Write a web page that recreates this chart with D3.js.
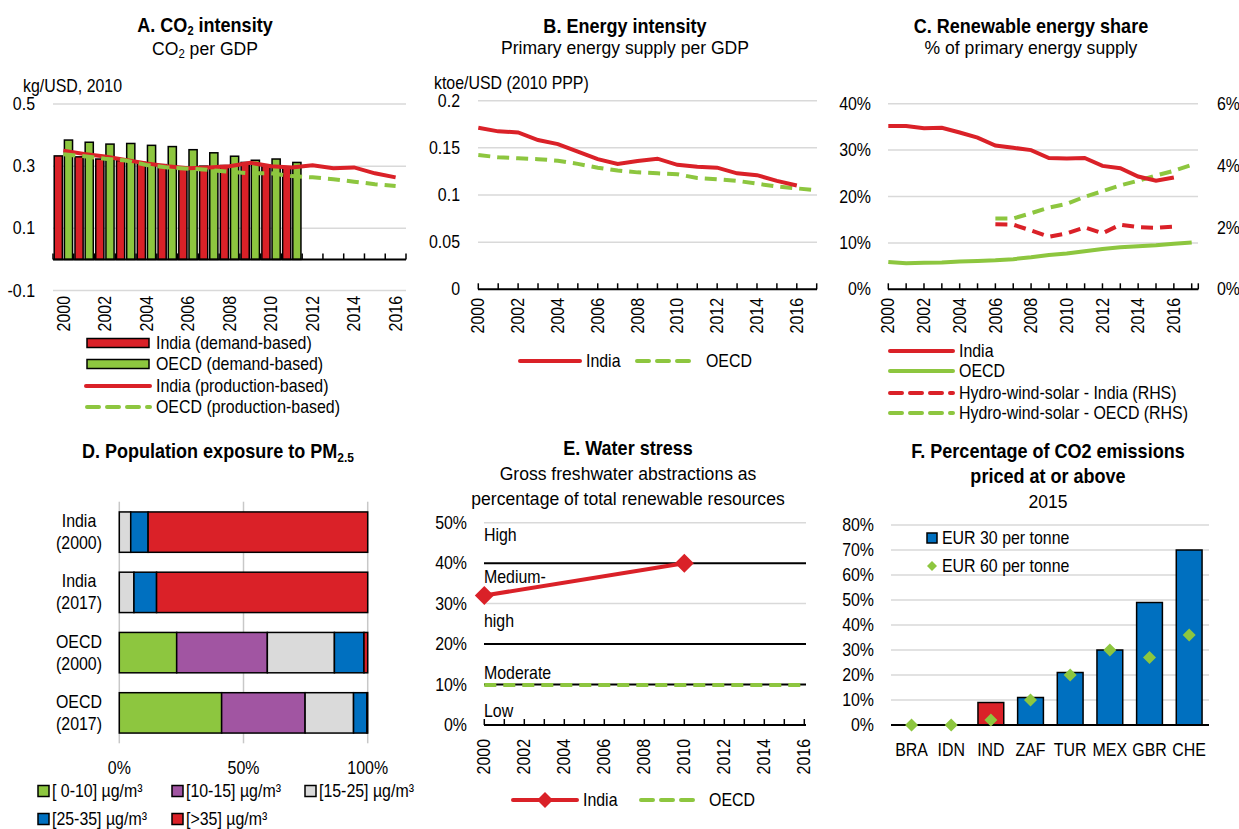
<!DOCTYPE html>
<html><head><meta charset="utf-8">
<script src="https://cdn.jsdelivr.net/npm/d3@7"></script>
<style>
body{margin:0;background:#fff}
svg{font-family:"Liberation Sans",Arial,sans-serif;font-size:17.5px;fill:#000}
</style></head><body>
<svg id="c" width="1239" height="829"></svg>
<script>
// ---------- DATA ----------
// Panel A
const yearsA = [2000,2001,2002,2003,2004,2005,2006,2007,2008,2009,2010,2011,2012,2013,2014,2015,2016];
const indiaDemand = [0.333,0.330,0.323,0.318,0.312,0.305,0.296,0.300,0.302,0.312,0.303,0.296];
const oecdDemand  = [0.384,0.377,0.371,0.373,0.367,0.363,0.353,0.343,0.332,0.319,0.323,0.312];
const indiaProd   = [0.350,0.339,0.331,0.320,0.309,0.300,0.293,0.296,0.300,0.311,0.300,0.296,0.303,0.293,0.296,0.277,0.264];
const oecdProd    = [0.338,0.332,0.324,0.318,0.304,0.296,0.292,0.288,0.282,0.277,0.277,0.268,0.264,0.258,0.250,0.242,0.236];
const ticksA = [-0.1,0.1,0.3,0.5];
const ticksALabels = ["-0.1","0.1","0.3","0.5"];
const yearLabels = ["2000","2002","2004","2006","2008","2010","2012","2014","2016"];
const legendA = ["India (demand-based)","OECD (demand-based)","India (production-based)","OECD (production-based)"];

// Panel B
const yearsB = [2000,2001,2002,2003,2004,2005,2006,2007,2008,2009,2010,2011,2012,2013,2014,2015,2016,2017];
const indiaEnergy = [0.1714,0.1675,0.1664,0.1583,0.1540,0.1460,0.1380,0.1330,0.1360,0.1385,0.1320,0.1300,0.1290,0.1230,0.1210,0.1150,0.1100];
const oecdEnergy  = [0.1424,0.1400,0.1390,0.1380,0.1364,0.1330,0.1290,0.1260,0.1240,0.1230,0.1220,0.1180,0.1166,0.1150,0.1120,0.1090,0.1070,0.1050];
const ticksB = [0,0.05,0.1,0.15,0.2];
const ticksBLabels = ["0","0.05","0.1","0.15","0.2"];

// Panel C
const yearsC = [2000,2001,2002,2003,2004,2005,2006,2007,2008,2009,2010,2011,2012,2013,2014,2015,2016,2017];
const indiaRenew = [35.2,35.2,34.7,34.8,33.8,32.7,31.0,30.5,30.0,28.3,28.2,28.3,26.6,26.1,24.3,23.4,24.1];
const oecdRenew  = [5.9,5.6,5.7,5.75,6.0,6.1,6.25,6.5,6.9,7.4,7.7,8.2,8.7,9.05,9.3,9.5,9.8,10.1];
const hwsYears   = [2006,2007,2008,2009,2010,2011,2012,2013,2014,2015,2016,2017];
const hwsIndia   = [2.10,2.09,1.90,1.70,1.81,2.00,1.81,2.09,2.01,1.99,2.03];
const hwsOECD    = [2.29,2.29,2.46,2.64,2.76,2.99,3.17,3.36,3.51,3.68,3.83,4.02];
const ticksCL = [0,10,20,30,40];
const ticksCR = [0,2,4,6];
const legendC = ["India","OECD","Hydro-wind-solar - India (RHS)","Hydro-wind-solar - OECD (RHS)"];

// Panel D
const dCats = [["India","(2000)"],["India","(2017)"],["OECD","(2000)"],["OECD","(2017)"]];
const pm0_10  = [0,0,23.1,41.2];
const pm10_15 = [0,0,36.5,33.6];
const pm15_25 = [4.6,5.9,27.0,19.5];
const pm25_35 = [7.0,9.1,11.9,5.4];
const pm35    = [88.4,85.0,1.5,0.3];
const pmKeys  = ["[ 0-10] µg/m³","[10-15] µg/m³","[15-25] µg/m³","[25-35] µg/m³","[>35] µg/m³"];
const ticksD  = [0,50,100];

// Panel E
const yearsE = [2000,2001,2002,2003,2004,2005,2006,2007,2008,2009,2010,2011,2012,2013,2014,2015,2016];
const waterIndiaYears = [2000,2010];
const waterIndia = [32,40];
const waterOECD = [9.9,9.9,9.9,9.9,9.9,9.9,9.9,9.9,9.9,9.9,9.9,9.9,9.9,9.9,9.9,9.9,9.9];
const stressThresholds = [10,20,40];
const ticksE = [0,10,20,30,40,50];

// Panel F
const countries = ["BRA","IDN","IND","ZAF","TUR","MEX","GBR","CHE"];
const eur30 = [0,0,9,11,21,30,49,70];
const eur60 = [0,0,2,10,20,30,27,36];
const ticksF = [0,10,20,30,40,50,60,70,80];

// ---------- STYLE ----------
const RED="#DA2128", GREEN="#8DC63F", BLUE="#0070C0", PURPLE="#A155A2", LGRAY="#DADADA", GRID="#D9D9D9";
const SX = 0.91; // horizontal condensing of body text
const svg = d3.select("#c");

function text(g,x,y,s,o={}){
  const t=g.append("text").attr("x",x).attr("y",y).text(s);
  for(const k in o) t.attr(k,o[k]);
  return t;
}
function gridH(g,ys,x0,x1,col=GRID,w=1.5){
  g.selectAll(null).data(ys).join("line")
   .attr("x1",x0).attr("x2",x1).attr("y1",d=>d).attr("y2",d=>d)
   .attr("stroke",col).attr("stroke-width",w);
}
function upTicks(g,xs,y,len=6){
  g.selectAll(null).data(xs).join("line")
   .attr("x1",d=>d).attr("x2",d=>d).attr("y1",y).attr("y2",y-len)
   .attr("stroke","#000").attr("stroke-width",1.5);
}
function rotLabels(g,items,yTop){
  g.selectAll(null).data(items).join("text")
   .attr("transform",d=>`translate(${d.x},${yTop}) rotate(-90)`)
   .attr("text-anchor","end").attr("dy","0.35em").text(d=>d.t);
}
function title(g,x,y,parts,bold=true){
  const fs = bold?19.5:18.5;
  const t=g.append("text").attr("x",x).attr("y",y).attr("text-anchor","middle")
    .attr("font-weight",bold?"bold":"normal").attr("font-size",fs)
    .attr("data-sx",bold?0.925:0.95);
  parts.forEach(p=>{
    if(typeof p==="string") t.append("tspan").text(p);
    else t.append("tspan").attr("dy",p.dy).attr("font-size",p.fs||13).text(p.t);
  });
  return t;
}
const diamond = r => `M0,${-r}L${r},0L0,${r}L${-r},0Z`;

// ================= PANEL A =================
{
  const g=svg.append("g");
  title(g,205,32.5,["A. CO",{t:"2",dy:3,fs:12},{t:" intensity",dy:-3,fs:19.5}]);
  title(g,205,55.5,["CO",{t:"2",dy:3,fs:12},{t:" per GDP",dy:-3,fs:18.5}],false);
  text(g,23,92,"kg/USD, 2010");
  const x=d3.scaleBand().domain(yearsA).range([53,406]);
  const y=d3.scaleLinear().domain([-0.1,0.5]).range([290.5,104]);
  gridH(g,ticksA.map(y),53,406);
  g.selectAll(null).data(ticksA).join("text").attr("x",35).attr("y",d=>y(d)).attr("dy","0.35em")
   .attr("text-anchor","end").text((d,i)=>ticksALabels[i]);
  const bx=[...yearsA.map(d=>x(d)),x.range()[1]];
  upTicks(g,bx,y(0));
  const x1=d3.scaleBand().domain(["india","oecd"]).range([0,x.bandwidth()]).paddingInner(0.2).paddingOuter(0.12);
  g.selectAll(null).data(indiaDemand).join("rect")
   .attr("x",(d,i)=>x(yearsA[i])+x1("india")).attr("width",x1.bandwidth())
   .attr("y",d=>y(d)).attr("height",d=>y(0)-y(d)).attr("fill",RED).attr("stroke","#000").attr("stroke-width",1.5);
  g.selectAll(null).data(oecdDemand).join("rect")
   .attr("x",(d,i)=>x(yearsA[i])+x1("oecd")).attr("width",x1.bandwidth())
   .attr("y",d=>y(d)).attr("height",d=>y(0)-y(d)).attr("fill",GREEN).attr("stroke","#000").attr("stroke-width",1.5);
  g.append("line").attr("x1",53).attr("x2",406).attr("y1",y(0)).attr("y2",y(0)).attr("stroke","#000").attr("stroke-width",2);
  const cx=d=>x(d)+x.bandwidth()/2;
  const lineI=d3.line().x((d,i)=>cx(yearsA[i])).y(d=>y(d));
  g.append("path").attr("d",lineI(indiaProd)).attr("fill","none").attr("stroke",RED).attr("stroke-width",4);
  g.append("path").attr("d",lineI(oecdProd)).attr("fill","none").attr("stroke",GREEN).attr("stroke-width",4).attr("stroke-dasharray","12,7");
  rotLabels(g,yearLabels.map(t=>({x:cx(+t),t})),296);
  const ly=[343,364,386,407];
  g.append("rect").attr("x",87).attr("y",ly[0]-4.5).attr("width",62).attr("height",9).attr("fill",RED).attr("stroke","#000").attr("stroke-width",1.5);
  g.append("rect").attr("x",87).attr("y",ly[1]-4.5).attr("width",62).attr("height",9).attr("fill",GREEN).attr("stroke","#000").attr("stroke-width",1.5);
  g.append("line").attr("x1",86).attr("x2",150).attr("y1",ly[2]).attr("y2",ly[2]).attr("stroke",RED).attr("stroke-width",4).attr("stroke-linecap","round");
  g.append("line").attr("x1",87).attr("x2",150).attr("y1",ly[3]).attr("y2",ly[3]).attr("stroke",GREEN).attr("stroke-width",4).attr("stroke-dasharray","12,8").attr("stroke-linecap","round");
  legendA.forEach((s,i)=>text(g,156,ly[i],s,{dy:"0.35em"}));
}

// ================= PANEL B =================
{
  const g=svg.append("g");
  title(g,625,33.5,["B. Energy intensity"]);
  title(g,625,54.5,["Primary energy supply per GDP"],false);
  text(g,434,89,"ktoe/USD (2010 PPP)");
  const x=d3.scalePoint().domain(yearsB).range([478.3,816.7]);
  const y=d3.scaleLinear().domain([0,0.2]).range([289.3,100.7]);
  gridH(g,ticksB.slice(1).map(y),478,817);
  g.selectAll(null).data(ticksB).join("text").attr("x",460).attr("y",d=>y(d)).attr("dy","0.35em")
   .attr("text-anchor","end").text((d,i)=>ticksBLabels[i]);
  upTicks(g,yearsB.map(x),y(0));
  g.append("line").attr("x1",478).attr("x2",817).attr("y1",y(0)).attr("y2",y(0)).attr("stroke","#000").attr("stroke-width",2);
  const ln=d3.line().x((d,i)=>x(yearsB[i])).y(d=>y(d));
  g.append("path").attr("d",ln(oecdEnergy)).attr("fill","none").attr("stroke",GREEN).attr("stroke-width",4).attr("stroke-dasharray","12,7");
  g.append("path").attr("d",ln(indiaEnergy)).attr("fill","none").attr("stroke",RED).attr("stroke-width",4);
  rotLabels(g,yearLabels.map(t=>({x:x(+t),t})),298);
  g.append("line").attr("x1",520).attr("x2",580).attr("y1",361).attr("y2",361).attr("stroke",RED).attr("stroke-width",4).attr("stroke-linecap","round");
  text(g,586,361,"India",{dy:"0.35em"});
  g.append("line").attr("x1",637).attr("x2",697).attr("y1",361).attr("y2",361).attr("stroke",GREEN).attr("stroke-width",4).attr("stroke-dasharray","12,8").attr("stroke-linecap","round");
  text(g,706,361,"OECD",{dy:"0.35em"});
}

// ================= PANEL C =================
{
  const g=svg.append("g");
  title(g,1031,33.5,["C. Renewable energy share"]);
  title(g,1031,54.5,["% of primary energy supply"],false);
  const x=d3.scaleLinear().domain([2000,2017]).range([888.3,1191.7]);
  const yL=d3.scaleLinear().domain([0,40]).range([289.3,103.7]);
  const yR=d3.scaleLinear().domain([0,6]).range([289.3,103.7]);
  gridH(g,ticksCL.slice(1).map(yL),888,1198);
  g.selectAll(null).data(ticksCL).join("text").attr("x",871).attr("y",d=>yL(d)).attr("dy","0.35em")
   .attr("text-anchor","end").text(d=>d+"%");
  g.selectAll(null).data(ticksCR).join("text").attr("x",1217).attr("y",d=>yR(d)).attr("dy","0.35em")
   .attr("text-anchor","start").text(d=>d+"%");
  upTicks(g,[...yearsC.map(x),1198.3],yL(0));
  g.append("line").attr("x1",888).attr("x2",1198.3).attr("y1",yL(0)).attr("y2",yL(0)).attr("stroke","#000").attr("stroke-width",2);
  const lnL=yrs=>d3.line().x((d,i)=>x(yrs[i])).y(d=>yL(d));
  const lnR=yrs=>d3.line().x((d,i)=>x(yrs[i])).y(d=>yR(d));
  g.append("path").attr("d",lnL(yearsC)(oecdRenew)).attr("fill","none").attr("stroke",GREEN).attr("stroke-width",4);
  g.append("path").attr("d",lnR(hwsYears)(hwsOECD)).attr("fill","none").attr("stroke",GREEN).attr("stroke-width",4).attr("stroke-dasharray","12,7");
  g.append("path").attr("d",lnR(hwsYears)(hwsIndia)).attr("fill","none").attr("stroke",RED).attr("stroke-width",4).attr("stroke-dasharray","12,7");
  g.append("path").attr("d",lnL(yearsC)(indiaRenew)).attr("fill","none").attr("stroke",RED).attr("stroke-width",4);
  rotLabels(g,yearLabels.map(t=>({x:x(+t),t})),298);
  const ly=[351,371,393,413];
  const cols=[RED,GREEN,RED,GREEN];
  ly.forEach((yy,i)=>{
    const l=g.append("line").attr("x1",890).attr("x2",953).attr("y1",yy).attr("y2",yy).attr("stroke",cols[i]).attr("stroke-width",4).attr("stroke-linecap","round");
    if(i>1) l.attr("stroke-dasharray","12,8");
    text(g,959,yy,legendC[i],{dy:"0.35em"});
  });
}

// ================= PANEL D =================
{
  const g=svg.append("g");
  title(g,218,458,["D. Population exposure to PM",{t:"2.5",dy:4}]);
  const x=d3.scaleLinear().domain([0,100]).range([119.3,367.7]);
  const y=d3.scaleBand().domain(d3.range(dCats.length)).range([501.7,743.3]).paddingInner(0.33).paddingOuter(0.17);
  g.selectAll(null).data(ticksD).join("line").attr("x1",d=>x(d)).attr("x2",d=>x(d)).attr("y1",501.7).attr("y2",743.3)
   .attr("stroke","#C8C8C8").attr("stroke-width",1.5);
  g.selectAll(null).data(ticksD).join("text").attr("x",d=>x(d)).attr("y",768).attr("dy","0.35em")
   .attr("text-anchor","middle").text(d=>d+"%");
  const rows=dCats.map((c,i)=>({i,a:pm0_10[i],b:pm10_15[i],c:pm15_25[i],d:pm25_35[i],e:pm35[i]}));
  const keys=["a","b","c","d","e"];
  const cols=[GREEN,PURPLE,LGRAY,BLUE,RED];
  const st=d3.stack().keys(keys)(rows);
  st.forEach((s,k)=>{
    g.selectAll(null).data(s.filter(d=>d[1]-d[0]>0)).join("rect")
     .attr("x",d=>x(d[0])).attr("width",d=>x(d[1])-x(d[0]))
     .attr("y",d=>y(d.data.i)).attr("height",y.bandwidth())
     .attr("fill",cols[k]).attr("stroke","#000").attr("stroke-width",1.5);
  });
  dCats.forEach((c,i)=>{
    const cy=y(i)+y.bandwidth()/2;
    text(g,79,cy-5,c[0],{"text-anchor":"middle"});
    text(g,79,cy+17,c[1],{"text-anchor":"middle"});
  });
  const lx=[38,172,305,38,172], lyy=[791,791,791,819,819];
  pmKeys.forEach((s,k)=>{
    g.append("rect").attr("x",lx[k]).attr("y",lyy[k]-5.5).attr("width",11).attr("height",11).attr("fill",cols[k]).attr("stroke","#000").attr("stroke-width",1.5);
    text(g,lx[k]+14,lyy[k],s,{dy:"0.35em"});
  });
}

// ================= PANEL E =================
{
  const g=svg.append("g");
  title(g,628,455,["E. Water stress"]);
  title(g,628,480,["Gross freshwater abstractions as"],false);
  title(g,628,505,["percentage of total renewable resources"],false);
  const x=d3.scaleLinear().domain([2000,2016]).range([484.3,804.3]);
  const y=d3.scaleLinear().domain([0,50]).range([725,522.7]);
  gridH(g,ticksE.filter(d=>d>0&&!stressThresholds.includes(d)).map(y),484,806);
  gridH(g,stressThresholds.map(y),484,806,"#000",2);
  g.selectAll(null).data(ticksE).join("text").attr("x",467).attr("y",d=>y(d)).attr("dy","0.35em")
   .attr("text-anchor","end").text(d=>d+"%");
  upTicks(g,yearsE.map(x),y(0));
  g.append("line").attr("x1",484).attr("x2",806).attr("y1",y(0)).attr("y2",y(0)).attr("stroke","#000").attr("stroke-width",2);
  const ann=[["High",541],["Medium-",583],["high",627],["Moderate",679],["Low",717]];
  ann.forEach(a=>text(g,484,a[1],a[0]));
  const lnO=d3.line().x((d,i)=>x(yearsE[i])).y(d=>y(d));
  g.append("path").attr("d",lnO(waterOECD)).attr("fill","none").attr("stroke",GREEN).attr("stroke-width",4).attr("stroke-dasharray","12,7");
  const lnI=d3.line().x((d,i)=>x(waterIndiaYears[i])).y(d=>y(d));
  g.append("path").attr("d",lnI(waterIndia)).attr("fill","none").attr("stroke",RED).attr("stroke-width",4);
  g.selectAll(null).data(waterIndia).join("path").attr("d",diamond(9.5))
   .attr("transform",(d,i)=>`translate(${x(waterIndiaYears[i])},${y(d)})`).attr("fill",RED);
  rotLabels(g,yearLabels.map(t=>({x:x(+t),t})),739);
  g.append("line").attr("x1",513).attr("x2",577).attr("y1",800).attr("y2",800).attr("stroke",RED).attr("stroke-width",4).attr("stroke-linecap","round");
  g.append("path").attr("d",diamond(8)).attr("transform","translate(545,800)").attr("fill",RED);
  text(g,583,800,"India",{dy:"0.35em"});
  g.append("line").attr("x1",641).attr("x2",698).attr("y1",800).attr("y2",800).attr("stroke",GREEN).attr("stroke-width",4).attr("stroke-dasharray","12,8").attr("stroke-linecap","round");
  text(g,709,800,"OECD",{dy:"0.35em"});
}

// ================= PANEL F =================
{
  const g=svg.append("g");
  title(g,1048,458,["F. Percentage of CO2 emissions"]);
  title(g,1048,483,["priced at or above"]);
  title(g,1048,508,["2015"],false);
  const x=d3.scaleBand().domain(countries).range([891.7,1209]).paddingInner(0.35).paddingOuter(0.175);
  const y=d3.scaleLinear().domain([0,80]).range([725,525]);
  gridH(g,ticksF.slice(1).map(y),891,1209);
  g.selectAll(null).data(ticksF).join("text").attr("x",874).attr("y",d=>y(d)).attr("dy","0.35em")
   .attr("text-anchor","end").text(d=>d+"%");
  const fRows=countries.map((c,i)=>({c,v30:eur30[i],v60:eur60[i]}));
  g.selectAll(null).data(fRows.filter(d=>d.v30>0)).join("rect")
   .attr("x",d=>x(d.c)).attr("width",x.bandwidth())
   .attr("y",d=>y(d.v30)).attr("height",d=>y(0)-y(d.v30))
   .attr("fill",d=>d.c==="IND"?RED:BLUE).attr("stroke","#000").attr("stroke-width",1.5);
  g.append("line").attr("x1",891).attr("x2",1209).attr("y1",y(0)).attr("y2",y(0)).attr("stroke","#000").attr("stroke-width",2);
  g.selectAll(null).data(fRows).join("path").attr("d",diamond(6.5))
   .attr("transform",d=>`translate(${x(d.c)+x.bandwidth()/2},${y(d.v60)})`).attr("fill",GREEN);
  g.selectAll(null).data(countries).join("text").attr("x",d=>x(d)+x.bandwidth()/2).attr("y",750).attr("dy","0.35em")
   .attr("text-anchor","middle").text(d=>d);
  g.append("rect").attr("x",927).attr("y",533).attr("width",10).attr("height",10).attr("fill",BLUE).attr("stroke","#000").attr("stroke-width",1.5);
  text(g,942,538,"EUR 30 per tonne",{dy:"0.35em"});
  g.append("path").attr("d",diamond(5)).attr("transform","translate(932,566)").attr("fill",GREEN);
  text(g,942,566,"EUR 60 per tonne",{dy:"0.35em"});
}

// condense text horizontally (reference typeface is slightly narrow/tall)
svg.selectAll("text").each(function(){
  const t=d3.select(this);
  const sx=+(t.attr("data-sx")||SX);
  const tr=t.attr("transform");
  if(tr) t.attr("transform",tr+` scale(${sx},1)`);
  else {
    const x=+t.attr("x")||0, y=+t.attr("y")||0;
    t.attr("transform",`translate(${x},${y}) scale(${sx},1) translate(${-x},${-y})`);
  }
});
</script>
</body></html>
